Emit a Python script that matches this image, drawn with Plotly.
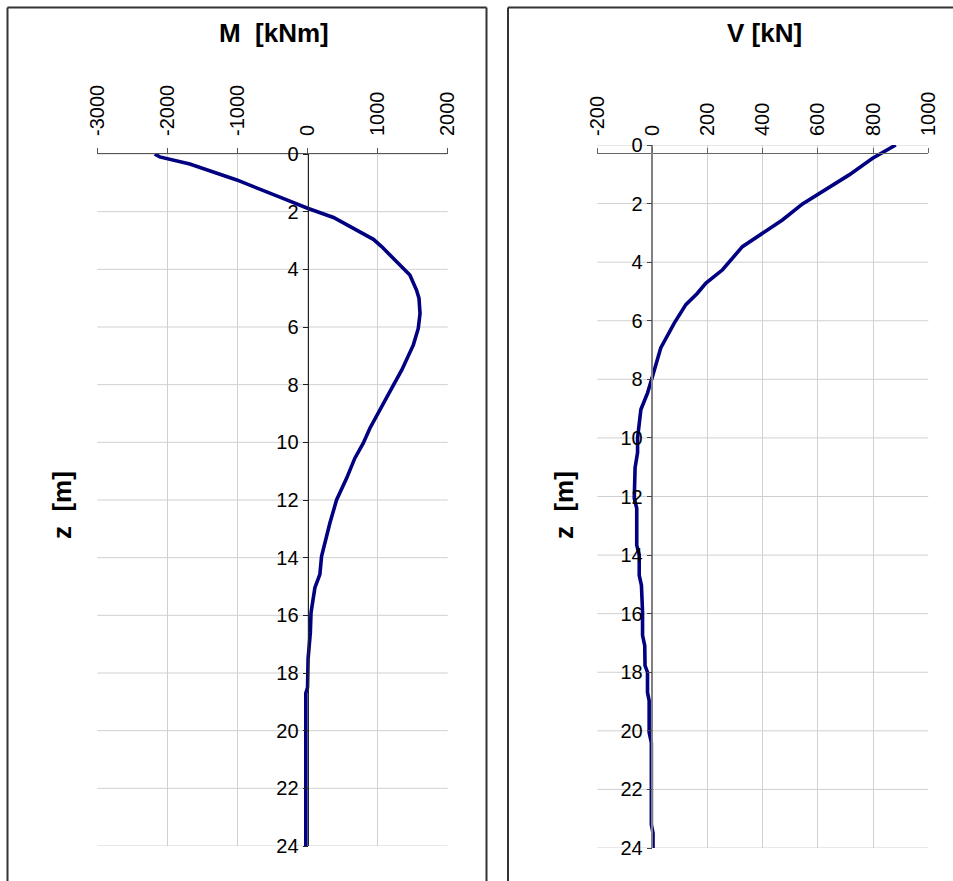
import plotly.graph_objects as go

# ---- data ----
z_M = [0, 0.1, 0.35, 0.9, 1.54, 1.88, 2.2, 2.96, 3.21, 4.2, 4.72, 5.0, 5.53, 6.05, 6.62,
       7.49, 8.13, 8.94, 9.51, 10.03, 10.55, 11.25, 12.0, 12.8, 13.95, 14.58, 15.04, 15.9,
       16.55, 16.6, 17.5, 18.5, 18.7, 24.0]
M = [-2180, -2110, -1680, -1010, -350, 0, 370, 940, 1057, 1460, 1555, 1590, 1605, 1580, 1510,
     1345, 1200, 1010, 890, 795, 675, 557, 414, 319, 200, 176, 105, 50,
     50, 40, 8, 0, -25, -25]

z_V = [0, 0.45, 1.02, 1.53, 2.01, 2.56, 3.01, 3.47, 4.26, 4.72, 5.06, 5.45, 6.08, 6.93,
       7.9, 8.47, 9.03, 10.0, 10.5, 11.02, 12.06, 12.4, 13.66, 14.0, 14.69, 15.03, 15.94,
       16.74, 17.09, 17.77, 18.0, 18.69, 18.97, 20.06, 20.4, 23.2, 23.49, 24.0]
V = [882, 798, 713, 628, 544, 471, 399, 326, 254, 193, 163, 121, 79, 30,
     0, -18, -42, -54, -54, -63, -66, -57, -57, -48, -48, -40, -36,
     -36, -28, -27, -18, -18, -12, -12, -4, -4, 2, 2]

M_ticks = [-3000, -2000, -1000, 0, 1000, 2000]
M_ticklabels = ["-3000", "-2000", "-1000", "0", "1000", "2000"]
V_ticks = [-200, 0, 200, 400, 600, 800, 1000]
V_ticklabels = ["-200", "0", "200", "400", "600", "800", "1000"]
z_ticks = [0, 2, 4, 6, 8, 10, 12, 14, 16, 18, 20, 22, 24]
z_ticklabels = [str(v) for v in z_ticks]

M_range = [-3000, 2000]
V_range = [-200, 1000]
z_range = [24, 0]

W, H = 953, 881

def px_x(p):
    return p / W

def px_y(p):
    return 1 - p / H

# plot-area domains (from pixels)
xd1 = [px_x(97.3), px_x(447.7)]
yd1 = [px_y(846), px_y(154)]
xd2 = [px_x(597.3), px_x(928.3)]
yd2 = [px_y(848), px_y(145)]

pos1 = xd1[0] + (0 - M_range[0]) / (M_range[1] - M_range[0]) * (xd1[1] - xd1[0])
pos2 = xd2[0] + (0 - V_range[0]) / (V_range[1] - V_range[0]) * (xd2[1] - xd2[0])

line_color = "#000080"
grid = "#d0d0d0"
font_fam = "Liberation Sans, Arial, sans-serif"

fig = go.Figure()
fig.add_trace(go.Scatter(x=M, y=z_M, mode="lines", line=dict(color=line_color, width=3.6),
                         xaxis="x", yaxis="y3", showlegend=False))
fig.add_trace(go.Scatter(x=V, y=z_V, mode="lines", line=dict(color=line_color, width=3.6),
                         xaxis="x2", yaxis="y4", showlegend=False))

tickfont = dict(family=font_fam, size=20, color="black")

# base y axes (anchored normally, no visible elements)
base_y = dict(range=z_range, tickmode="array", tickvals=z_ticks, showgrid=False,
              zeroline=False, showline=False, ticks="", showticklabels=False,
              fixedrange=True)
# visible y axes placed at x = 0
vis_y = dict(range=z_range, tickmode="array", tickvals=z_ticks, ticktext=z_ticklabels,
             showgrid=False, zeroline=False, ticks="outside", ticklen=5, tickfont=tickfont,
             ticklabelstandoff=0, fixedrange=True, anchor="free")
xcommon = dict(showgrid=True, gridcolor=grid, gridwidth=1, zeroline=False, fixedrange=True,
               tickfont=tickfont, ticks="outside", ticklen=5, side="top",
               tickangle=-90, ticklabelstandoff=8, showline=True, linewidth=1)

fig.update_layout(
    width=W, height=H,
    margin=dict(l=0, r=0, t=0, b=0, pad=0, autoexpand=False),
    paper_bgcolor="white", plot_bgcolor="white",
    font=dict(family=font_fam, color="black"),
    xaxis=dict(domain=xd1, range=M_range, tickmode="array", tickvals=M_ticks, ticktext=M_ticklabels,
               anchor="y", linecolor="#555555", tickcolor="#555555", **xcommon),
    yaxis=dict(domain=yd1, anchor="x", **base_y),
    yaxis3=dict(domain=yd1, overlaying="y", position=pos1,
                showline=True, linecolor="#222222", linewidth=1, tickcolor="#222222", **vis_y),
    xaxis2=dict(domain=xd2, range=V_range, tickmode="array", tickvals=V_ticks, ticktext=V_ticklabels,
                anchor="y2", linecolor="#666666", tickcolor="#666666", **xcommon),
    yaxis2=dict(domain=yd2, anchor="x2", **base_y),
    yaxis4=dict(domain=yd2, overlaying="y2", position=pos2,
                showline=True, linecolor="#808080", linewidth=1.5, tickcolor="#444444", **vis_y),
)

# horizontal gridlines at the z ticks, through each panel's y scale
for xr, yr in [("x domain", "y3"), ("x2 domain", "y4")]:
    for v in z_ticks:
        fig.add_shape(type="line", xref=xr, yref=yr, x0=0, x1=1, y0=v, y1=v,
                      line=dict(color=grid, width=1), layer="below")

title_font = dict(family=font_fam, size=26, color="black")
annots = [
    dict(text="<b>M\u00a0\u00a0[kNm]</b>", x=px_x(274), y=px_y(33)),
    dict(text="<b>V [kN]</b>", x=px_x(764.5), y=px_y(33)),
    dict(text="<b>z\u00a0\u00a0[m]</b>", x=px_x(62), y=px_y(505), textangle=-90),
    dict(text="<b>z\u00a0\u00a0[m]</b>", x=px_x(564), y=px_y(505), textangle=-90),
]
for a in annots:
    fig.add_annotation(xref="paper", yref="paper", xanchor="center", yanchor="middle",
                       showarrow=False, font=title_font, **a)

# panel borders
bc = "#333333"
borders = [
    (7.5, 7.5, 7.5, 881), (7.5, 7.5, 486.5, 7.5), (486.5, 7.5, 486.5, 881),
    (508, 7.5, 508, 881), (508, 7.5, 953, 7.5),
]
for x0, y0, x1, y1 in borders:
    fig.add_shape(type="line", xref="paper", yref="paper",
                  x0=px_x(x0), y0=px_y(y0), x1=px_x(x1), y1=px_y(y1),
                  line=dict(color=bc, width=2))

fig.write_html("out.html")
